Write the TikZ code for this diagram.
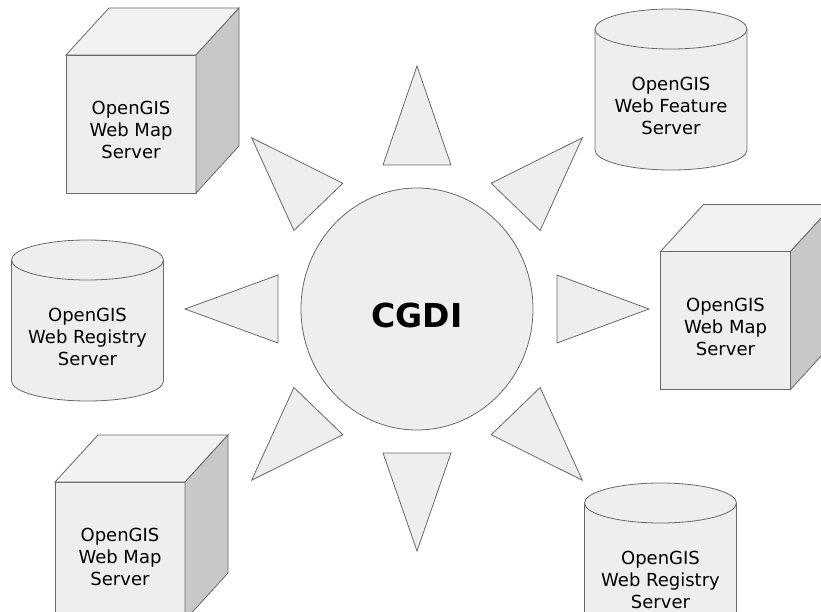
\documentclass[tikz,border=0pt]{standalone}
\usepackage{fontspec}
\setmainfont{DejaVu Sans}
\definecolor{facegray}{RGB}{238,238,238}
\definecolor{topgray}{RGB}{242,242,242}
\definecolor{sidegray}{RGB}{200,200,200}
\definecolor{edgegray}{RGB}{105,105,105}
\usepackage{tikz}
\usetikzlibrary{shapes.geometric,positioning,calc}

\begin{document}
\begin{tikzpicture}[x=1pt, y=1pt,
    edge/.style={draw=edgegray, line width=0.8pt, line join=miter},
    cubeface/.style={edge, fill=facegray, minimum width=130pt, minimum height=138pt, inner sep=0pt, outer sep=0pt},
    cubetop/.style={edge, fill=topgray},
    cubeside/.style={edge, fill=sidegray},
    cylbody/.style={minimum width=152pt, minimum height=121pt, inner sep=0pt, outer sep=0pt},
    cylfill/.style={edge, fill=facegray},
    ray/.style={edge, fill=facegray},
    srvtext/.style={font=\fontsize{18}{22}\selectfont, align=center, inner sep=0pt},
    hub/.style={ellipse, edge, fill=facegray, minimum width=232pt, minimum height=242pt, inner sep=0pt}]
    \useasboundingbox (0,0) rectangle (821,611);
    \clip (0,0) rectangle (821,611);

    % central hub
    \node[hub] (cgdi) at (417,302) {};
    \node[font=\fontsize{33}{40}\selectfont\bfseries, inner sep=0pt] (cgdi-text) at ($(cgdi.center)+(0,-6)$) {CGDI};

    % triangles pointing out from the hub
    \foreach \ang/\rin/\rout in {90/144/243, 46/142/238, 0/140/232, -46/142/238, 270/144/242, 226/142/238, 180/139/232, 134/142/238}
        \filldraw[ray] ($(cgdi.center)+(\ang:\rin)+(\ang+90:34)$) -- ($(cgdi.center)+(\ang:\rout)$)
            -- ($(cgdi.center)+(\ang:\rin)+(\ang-90:34)$) -- cycle;

    % map servers as cubes
    \foreach \nm/\cx/\cy in {wmsA/131/487, wmsB/725.5/290.5, wmsC/120/60} {
        \node[cubeface] (\nm) at (\cx,\cy) {};
        \filldraw[cubetop] (\nm.north west) -- ++(43,47) -- ++(130,0) -- (\nm.north east) -- cycle;
        \filldraw[cubeside] (\nm.north east) -- ++(43,47) -- ++(0,-138) -- (\nm.south east) -- cycle;
        \node[srvtext] (\nm-text) at ($(\nm.center)+(0,-6)$) {OpenGIS\\Web Map\\Server};
    }

    % feature and registry servers as cylinders
    \foreach \nm/\cx/\cy/\kind in {wfs/671/582/Feature, wrsA/87.5/351/Registry, wrsB/660.5/108/Registry} {
        \node[cylbody] (\nm) at (\cx,\cy-60.5) {};
        \filldraw[cylfill] (\nm.north west) -- (\nm.south west)
            arc[start angle=180, end angle=360, x radius=76, y radius=20] -- (\nm.north east) -- cycle;
        \filldraw[cylfill] (\nm.north) ellipse [x radius=76, y radius=20];
        \node[srvtext] (\nm-text) at ($(\nm.north)+(0,-77)$) {OpenGIS\\Web \kind\\Server};
    }
\end{tikzpicture}
\end{document}
